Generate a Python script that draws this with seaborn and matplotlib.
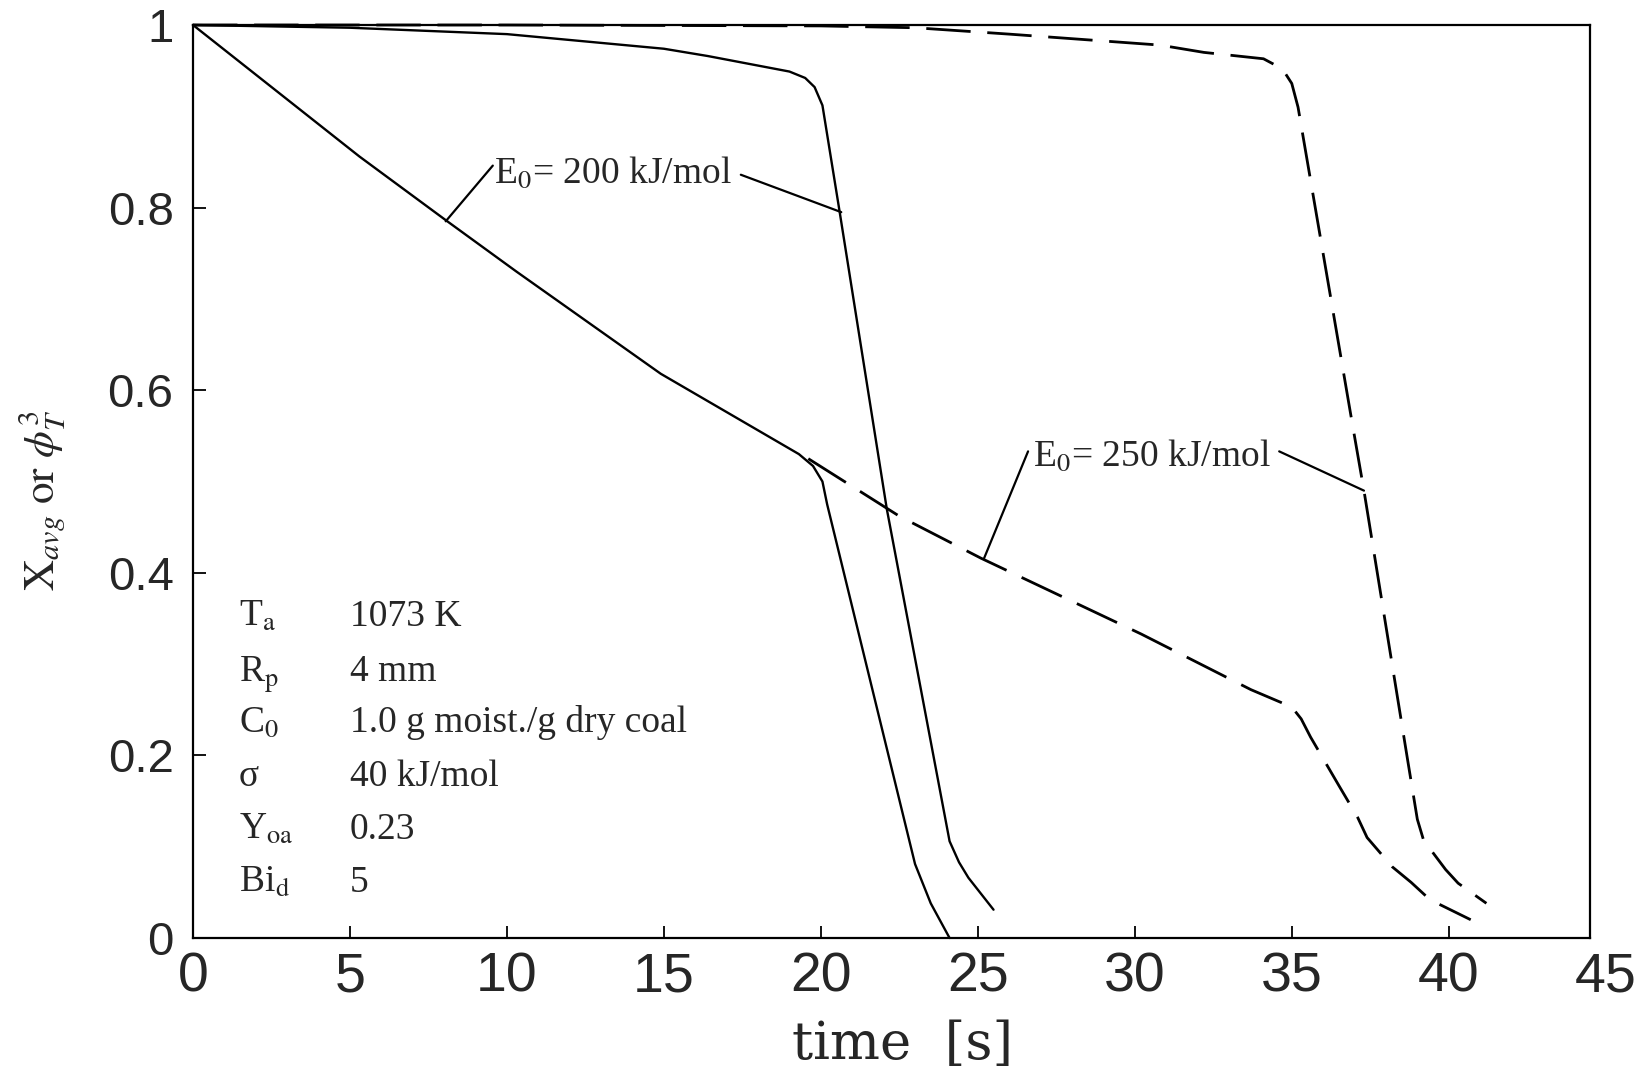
import numpy as np
import pandas as pd
import matplotlib
matplotlib.use("Agg")
import matplotlib.pyplot as plt
import seaborn as sns
from matplotlib import font_manager

# ---------------- data ----------------
# E0 = 200 kJ/mol, phi_T^3 (lower solid curve)
t_a = [0, 5.3, 8.1, 10.3, 14.9, 19.3, 19.75, 20.05, 20.2, 23.0, 23.5, 24.1]
y_a = [1.0, 0.856, 0.785, 0.73, 0.618, 0.53, 0.517, 0.50, 0.475, 0.081, 0.038, 0.0]
# E0 = 200 kJ/mol, X_avg (upper solid curve)
t_b = [0, 5, 10, 15, 16.4, 19.0, 19.5, 19.8, 20.05, 20.6, 22.1, 24.1, 24.4, 24.7, 25.5]
y_b = [1.0, 0.997, 0.99, 0.974, 0.966, 0.949, 0.942, 0.932, 0.912, 0.795, 0.47, 0.106,
       0.083, 0.066, 0.031]
# E0 = 250 kJ/mol, phi_T^3 (lower dashed curve)
t_c = [19.6, 22.5, 25.1, 30.2, 33.7, 35.0, 35.3, 35.6, 36.5, 37.1, 37.4, 38.2, 38.8, 39.4, 40.7]
y_c = [0.525, 0.462, 0.416, 0.333, 0.272, 0.253, 0.24, 0.22, 0.167, 0.132, 0.11, 0.078,
       0.061, 0.042, 0.02]
# E0 = 250 kJ/mol, X_avg (upper dashed curve)
t_d = [0, 10, 20, 23, 26, 28, 30.8, 32.2, 34.1, 34.7, 35.0, 35.2, 36.9, 37.3, 38.7, 39.0,
       39.2, 39.9, 40.3, 41.2]
y_d = [1.0, 1.0, 0.999, 0.997, 0.99, 0.985, 0.978, 0.97, 0.963, 0.952, 0.936, 0.91, 0.569,
       0.49, 0.193, 0.13, 0.107, 0.075, 0.06, 0.038]

x_ticks = [0, 5, 10, 15, 20, 25, 30, 35, 40, 45]
y_ticks = [0, 0.2, 0.4, 0.6, 0.8, 1.0]
y_tick_labels = ["0", "0.2", "0.4", "0.6", "0.8", "1"]

param_names = [r"T$_\mathrm{a}$", r"R$_\mathrm{p}$", r"C$_\mathrm{0}$", "σ",
               r"Y$_\mathrm{oa}$", r"Bi$_\mathrm{d}$"]
param_values = ["1073 K", "4 mm", "1.0 g moist./g dry coal", "40 kJ/mol", "0.23", "5"]
param_rows_y = [0.342, 0.281, 0.226, 0.167, 0.108, 0.050]

label_200 = r"E$_\mathrm{0}$= 200 kJ/mol"
label_250 = r"E$_\mathrm{0}$= 250 kJ/mol"

# ---------------- style ----------------
sns.set_style("white")
plt.rcParams["font.family"] = ["Liberation Sans", "DejaVu Sans"]
plt.rcParams["mathtext.fontset"] = "stix"

installed = {f.name for f in font_manager.fontManager.ttflist}
narrow = "Liberation Sans Narrow" if "Liberation Sans Narrow" in installed else "Liberation Sans"
serif = ["Liberation Serif", "DejaVu Serif"]

W, H = 1646, 1069
fig = plt.figure(figsize=(W / 100, H / 100), dpi=100)
fig.patch.set_facecolor("white")
ax_l, ax_r, ax_t, ax_b = 193, 1590, 25, 938
ax = fig.add_axes([ax_l / W, 1 - ax_b / H, (ax_r - ax_l) / W, (ax_b - ax_t) / H])

curves = [
    (t_a, y_a, False),
    (t_b, y_b, False),
    (t_c, y_c, True),
    (t_d, y_d, True),
]
for t, y, dashed in curves:
    sns.lineplot(x=t, y=y, ax=ax, color="black", sort=False, estimator=None,
                 linewidth=2.0 if dashed else 1.7)
    ln = ax.lines[-1]
    if dashed:
        ln.set_dashes((16, 6))
    ln.set_clip_on(False)

ax.set_xlim(0, 44.5)
ax.set_ylim(0, 1)
ax.set_xticks(x_ticks[:-1])
ax.set_yticks(y_ticks)
ax.set_yticklabels(y_tick_labels)
ax.tick_params(axis="both", direction="in", length=9, width=1.3, color="black",
               bottom=True, left=True, top=False, right=False)
ax.tick_params(axis="x", labelsize=40, pad=10)
ax.tick_params(axis="y", labelsize=34, pad=14)
for lab in ax.get_xticklabels():
    lab.set_fontfamily(narrow)
for sp in ax.spines.values():
    sp.set_visible(True)
    sp.set_color("black")
    sp.set_linewidth(1.6)

# last x tick label lies just beyond the right spine in the reference
ax.text(45, 0, "45", fontsize=40, fontfamily=narrow, ha="center", va="top",
        transform=ax.get_xaxis_transform() +
        matplotlib.transforms.ScaledTranslation(0, -10 / 72, fig.dpi_scale_trans))

# annotations with leader lines
lw_lead = 1.6
lead = dict(arrowstyle="-", lw=lw_lead, color="black", shrinkA=0, shrinkB=0)
ax.text(9.6, 0.827, label_200, fontsize=27, fontfamily=serif, ha="left", va="baseline")
ax.annotate("", xy=(8.05, 0.785), xytext=(9.55, 0.846), arrowprops=lead)
ax.annotate("", xy=(20.65, 0.795), xytext=(17.45, 0.836), arrowprops=lead)

ax.text(26.75, 0.517, label_250, fontsize=27, fontfamily=serif, ha="left", va="baseline")
ax.annotate("", xy=(25.2, 0.416), xytext=(26.6, 0.533), arrowprops=lead)
ax.annotate("", xy=(37.3, 0.49), xytext=(34.6, 0.533), arrowprops=lead)

# parameter table
for name, val, yy in zip(param_names, param_values, param_rows_y):
    ax.text(1.45, yy, name, fontsize=27, fontfamily=serif, ha="left", va="baseline")
    ax.text(5.0, yy, val, fontsize=27, fontfamily=serif, ha="left", va="baseline")

# axis titles
fig.text(42 / W, 1 - 500 / H, r"$\mathrm{X}_{avg}\ \mathrm{or}\ \phi_{T}^{3}$",
         rotation=90, fontsize=31, ha="center", va="center")
fig.text(903 / W, 1 - 1044 / H, "time  [s]", fontsize=38, fontfamily="DejaVu Serif",
         ha="center", va="center")

fig.savefig("out.png", dpi=100, facecolor="white")
